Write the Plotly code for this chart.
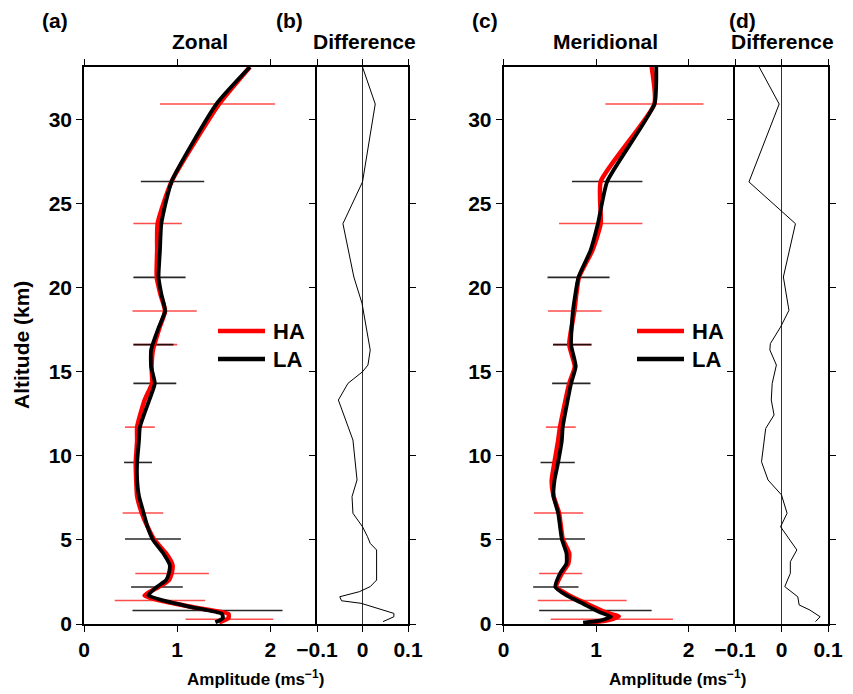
import plotly.graph_objects as go

# ---------------- data ----------------
# Panel (a) Zonal amplitude profiles
alt_a = [0.1, 0.35, 0.6, 1.0, 1.4, 1.7, 2.2, 2.6, 3.0, 3.5, 4.2, 5.0, 5.8, 6.6, 7.6, 8.6,
         9.6, 10.9, 11.7, 13.3, 14.3, 15.3, 16.3, 17.6, 18.6, 19.6, 20.6, 22.2, 23.8, 26.3, 30.9, 33.1]
zonal_la = [1.41, 1.49, 1.48, 1.15, 0.85, 0.69, 0.78, 0.88, 0.91, 0.92, 0.85, 0.74, 0.68, 0.64, 0.59, 0.57,
            0.57, 0.59, 0.60, 0.70, 0.76, 0.72, 0.72, 0.80, 0.87, 0.83, 0.80, 0.815, 0.83, 0.94, 1.42, 1.78]
zonal_ha = [1.45, 1.55, 1.55, 1.17, 0.81, 0.65, 0.80, 0.91, 0.94, 0.95, 0.88, 0.755, 0.68, 0.62, 0.57, 0.56,
            0.555, 0.57, 0.57, 0.65, 0.73, 0.725, 0.74, 0.81, 0.87, 0.82, 0.78, 0.785, 0.79, 0.94, 1.45, 1.78]

# Panel (b) zonal difference
alt_b = [0.14, 0.43, 0.63, 1.23, 1.38, 1.62, 1.92, 2.22, 2.61, 4.40, 4.79, 5.19, 5.78, 6.58, 7.57, 8.56,
         10.93, 13.31, 14.30, 14.99, 15.39, 16.28, 19.05, 20.62, 23.79, 26.27, 30.9, 33.1]
diff_b = [0.045, 0.069, 0.069, -0.003, -0.046, -0.05, -0.007, 0.017, 0.031, 0.031, 0.017, 0.011, 0.0, -0.021,
          -0.023, -0.012, -0.021, -0.053, -0.032, 0.0, 0.012, 0.017, -0.001, -0.019, -0.043, 0.0, 0.028, 0.0]

# Panel (c) Meridional amplitude profiles
alt_c = [0.08, 0.2, 0.44, 0.7, 1.2, 1.7, 2.2, 3.0, 3.6, 4.2, 5.05, 6.6, 7.6, 8.5, 9.6, 10.9, 11.7,
         14.3, 15.3, 16.6, 18.6, 20.6, 22.2, 23.8, 26.3, 30.9, 33.1]
merid_la = [0.86, 1.04, 1.16, 1.04, 0.86, 0.68, 0.56, 0.61, 0.68, 0.68, 0.63, 0.59, 0.54, 0.55, 0.59, 0.63, 0.64,
            0.73, 0.78, 0.73, 0.75, 0.81, 0.94, 1.02, 1.12, 1.63, 1.65]
merid_ha = [0.93, 1.11, 1.245, 1.10, 0.90, 0.71, 0.57, 0.63, 0.70, 0.71, 0.64, 0.60, 0.54, 0.52, 0.55, 0.59, 0.61,
            0.71, 0.77, 0.71, 0.765, 0.815, 0.96, 1.05, 1.05, 1.63, 1.60]

# Panel (d) meridional difference
alt_d = [0.14, 0.43, 0.83, 1.13, 1.62, 2.22, 3.01, 3.70, 4.40, 5.78, 6.58, 7.67, 8.56, 9.64, 11.62, 12.42,
         13.31, 14.30, 15.39, 16.28, 16.66, 17.65, 18.64, 20.62, 23.79, 26.27, 30.9, 33.1]
diff_d = [0.073, 0.083, 0.061, 0.038, 0.035, 0.007, 0.019, 0.019, 0.033, -0.002, 0.012, 0.0, -0.029, -0.043,
          -0.034, -0.016, -0.022, -0.020, -0.011, -0.025, -0.024, -0.002, 0.016, 0.004, 0.030, -0.070, -0.005, -0.048]

# Error bars (altitude, low, high, group)
bar_alt = [30.9, 26.3, 23.8, 20.6, 18.6, 16.6, 16.6, 14.3, 11.7, 9.6, 6.6, 5.05, 3.0, 2.2, 1.4, 0.8, 0.28]
bar_grp = ["HA", "LA", "HA", "LA", "HA", "HA", "LA", "LA", "HA", "LA", "HA", "LA", "HA", "LA", "HA", "LA", "HA"]
zonal_lo = [0.815, 0.61, 0.53, 0.53, 0.52, 0.53, 0.53, 0.53, 0.44, 0.43, 0.415, 0.44, 0.55, 0.505, 0.33, 0.52, 1.09]
zonal_hi = [2.05, 1.29, 1.05, 1.09, 1.21, 1.00, 0.96, 0.99, 0.76, 0.73, 0.85, 1.04, 1.34, 1.06, 1.30, 2.13, 2.03]
merid_lo = [1.10, 0.74, 0.60, 0.475, 0.48, 0.535, 0.535, 0.525, 0.457, 0.40, 0.33, 0.375, 0.385, 0.32, 0.37, 0.385, 0.51]
merid_hi = [2.16, 1.50, 1.50, 1.145, 1.06, 0.95, 0.95, 0.94, 0.78, 0.77, 0.86, 0.88, 0.85, 0.81, 1.33, 1.60, 1.83]

x_ticks_amp = [0, 1, 2]
x_ticks_diff = [-0.1, 0, 0.1]
y_ticks = [0, 5, 10, 15, 20, 25, 30]
series_names = ["HA", "LA"]

# ---------------- figure ----------------
FONT = "Liberation Sans, Arial, sans-serif"
W, H = 853, 694
RED = "#ff0000"
BAR_COL = {"HA": "rgba(255,0,0,0.7)", "LA": "rgba(0,0,0,0.85)"}
LINE_COL = {"HA": RED, "LA": "black"}

fig = go.Figure()


def bar_trace(lo, hi, xa, ya):
    for g in series_names:
        xs, ys = [], []
        for a, l, h, gg in zip(bar_alt, lo, hi, bar_grp):
            if gg == g:
                xs += [l, h, None]
                ys += [a, a, None]
        fig.add_trace(go.Scatter(x=xs, y=ys, mode="lines", xaxis=xa, yaxis=ya,
                                 line=dict(color=BAR_COL[g], width=1.6),
                                 showlegend=False, hoverinfo="skip"))


bar_trace(zonal_lo, zonal_hi, "x", "y")
bar_trace(merid_lo, merid_hi, "x3", "y3")

for (xa, ya, ha, la, alts) in [("x", "y", zonal_ha, zonal_la, alt_a),
                               ("x3", "y3", merid_ha, merid_la, alt_c)]:
    fig.add_trace(go.Scatter(x=ha, y=alts, mode="lines", name="HA", xaxis=xa, yaxis=ya,
                             line=dict(color=RED, width=4.5, shape="spline", smoothing=0.5),
                             showlegend=False))
    fig.add_trace(go.Scatter(x=la, y=alts, mode="lines", name="LA", xaxis=xa, yaxis=ya,
                             line=dict(color="black", width=3.8, shape="spline", smoothing=0.5),
                             showlegend=False))

fig.add_trace(go.Scatter(x=diff_b, y=alt_b, mode="lines", xaxis="x2", yaxis="y2",
                         line=dict(color="black", width=1), showlegend=False))
fig.add_trace(go.Scatter(x=diff_d, y=alt_d, mode="lines", xaxis="x4", yaxis="y4",
                         line=dict(color="black", width=1), showlegend=False))

ydom = [(H - 624) / H, (H - 67) / H]
tickfont = dict(family=FONT, size=21, color="black", weight="bold")


def xaxis(dom, rng, tv, anchor, zl=False):
    return dict(domain=dom, range=rng, tickvals=tv, anchor=anchor, showline=True, linecolor="black",
                linewidth=1.5, mirror="ticks", ticks="outside", ticklen=6, tickwidth=1.2,
                tickcolor="black", tickfont=tickfont, showgrid=False, zeroline=zl,
                zerolinecolor="#333", zerolinewidth=1, fixedrange=True)


def yaxis(anchor, labels, mirror):
    return dict(domain=ydom, range=[0, 33.1], tickvals=y_ticks, anchor=anchor, showline=True,
                linecolor="black", linewidth=1.5, mirror=mirror, ticks="outside", ticklen=6,
                tickwidth=1.2, tickcolor="black", tickfont=tickfont, showticklabels=labels,
                showgrid=False, zeroline=False, fixedrange=True)


fig.update_layout(
    width=W, height=H, template="none",
    paper_bgcolor="white", plot_bgcolor="white",
    margin=dict(l=0, r=0, t=0, b=0),
    font=dict(family=FONT, color="black"),
    xaxis=xaxis([84 / W, 317 / W], [0, 2.5], x_ticks_amp, "y"),
    xaxis2=xaxis([317 / W, 408 / W], [-0.1, 0.1], x_ticks_diff, "y2", zl=True),
    xaxis3=xaxis([503.5 / W, 735 / W], [0, 2.5], x_ticks_amp, "y3"),
    xaxis4=xaxis([735 / W, 828 / W], [-0.1, 0.1], x_ticks_diff, "y4", zl=True),
    yaxis=yaxis("x", True, False),
    yaxis2=yaxis("x2", False, "ticks"),
    yaxis3=yaxis("x3", True, False),
    yaxis4=yaxis("x4", False, "ticks"),
    showlegend=False,
)

# legend keys (drawn as line keys + labels)
leg_y = [331, 359]
for x0 in [218, 637]:
    for name, ly in zip(series_names, leg_y):
        fig.add_shape(type="line", xref="paper", yref="paper", x0=x0 / W, x1=(x0 + 47) / W,
                      y0=1 - ly / H, y1=1 - ly / H, line=dict(color=LINE_COL[name], width=4.5))
        fig.add_annotation(text="<b>%s</b>" % name, x=(x0 + 53) / W, y=1 - ly / H, xref="paper",
                           yref="paper", showarrow=False, xanchor="left", yanchor="middle",
                           font=dict(family=FONT, size=22, color="black"))

ann_font = dict(family=FONT, size=21, color="black")
anns = [
    ("<b>(a)</b>", 55, 21), ("<b>Zonal</b>", 200, 41), ("<b>(b)</b>", 289, 21), ("<b>Difference</b>", 364, 41),
    ("<b>(c)</b>", 485, 21), ("<b>Meridional</b>", 605, 41), ("<b>(d)</b>", 742, 21), ("<b>Difference</b>", 782, 41),
]
for t, x, y in anns:
    fig.add_annotation(text=t, x=x / W, y=1 - y / H, xref="paper", yref="paper", showarrow=False,
                       xanchor="center", yanchor="middle", font=ann_font)

fig.add_annotation(text="<b>Altitude (km)</b>", x=22 / W, y=1 - 345 / H, xref="paper", yref="paper",
                   showarrow=False, textangle=-90, xanchor="center", yanchor="middle",
                   font=dict(family=FONT, size=21, color="black"))
for cx in [256, 677]:
    fig.add_annotation(text="<b>Amplitude (ms<sup>−1</sup>)</b>", x=cx / W, y=1 - 691 / H, xref="paper",
                       yref="paper", showarrow=False, xanchor="center", yanchor="bottom",
                       font=dict(family=FONT, size=17, color="black"))

fig.write_html("out.html")
